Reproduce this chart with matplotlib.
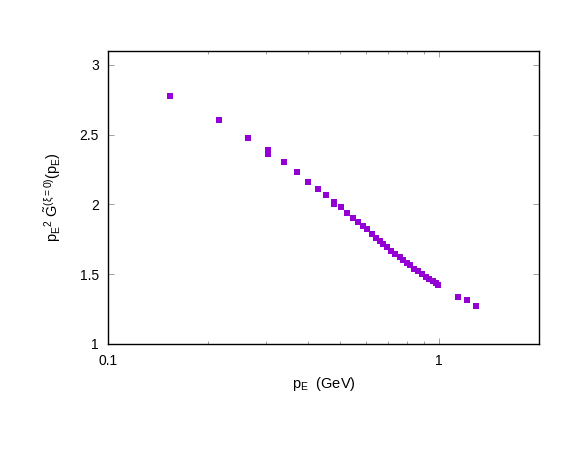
import matplotlib
matplotlib.use("Agg")
import matplotlib.pyplot as plt
from matplotlib.ticker import LogLocator, FixedLocator, NullFormatter, FixedFormatter

plt.rcParams['font.family'] = ['Liberation Sans', 'DejaVu Sans']
plt.rcParams['mathtext.fontset'] = 'custom'
plt.rcParams['mathtext.rm'] = 'Liberation Sans'
plt.rcParams['mathtext.it'] = 'Liberation Sans'
plt.rcParams['mathtext.sf'] = 'Liberation Sans'

# momentum p_E (GeV) and p_E^2 G(p_E)
p_E = [0.1535, 0.216, 0.264, 0.304, 0.304, 0.340, 0.372, 0.401, 0.430, 0.455,
       0.481, 0.481, 0.505, 0.527, 0.549, 0.569, 0.589, 0.606, 0.627, 0.645,
       0.662, 0.676, 0.696, 0.716, 0.736, 0.762, 0.778, 0.800, 0.817, 0.840,
       0.864, 0.889, 0.914, 0.933, 0.959, 0.980, 0.994, 1.143, 1.210, 1.296]
p2G = [2.778, 2.606, 2.477, 2.391, 2.362, 2.305, 2.233, 2.161, 2.111, 2.068,
       2.018, 2.004, 1.982, 1.939, 1.903, 1.875, 1.846, 1.824, 1.789, 1.760,
       1.738, 1.717, 1.695, 1.667, 1.645, 1.624, 1.602, 1.581, 1.566, 1.538,
       1.523, 1.502, 1.480, 1.466, 1.452, 1.437, 1.423, 1.337, 1.315, 1.272]

yticks = [1, 1.5, 2, 2.5, 3]
ytick_labels = ["1", "1.5", "2", "2.5", "3"]

fig = plt.figure(figsize=(5.81, 4.49), dpi=100)
ax = fig.add_axes([0.1867, 0.2339, 0.7405, 0.6525])

ax.plot(p_E, p2G, 's', color='#9400d3', markersize=4.3, markeredgewidth=0)

ax.set_xscale('log')
ax.set_xlim(0.1, 2.0)
ax.set_ylim(1, 3.1)

ax.xaxis.set_major_locator(FixedLocator([0.1, 1]))
ax.xaxis.set_major_formatter(FixedFormatter(["0.1", "1"]))
ax.xaxis.set_minor_locator(LogLocator(base=10, subs=range(2, 10)))
ax.xaxis.set_minor_formatter(NullFormatter())
ax.yaxis.set_major_locator(FixedLocator(yticks))
ax.yaxis.set_major_formatter(FixedFormatter(ytick_labels))

ax.tick_params(which='both', direction='in', top=True, right=True,
               labelsize=10, colors='black')
ax.tick_params(which='major', length=4.5, width=0.6, pad=7)
ax.tick_params(which='minor', length=2.5, width=0.6)
ax.tick_params(axis='y', color='#909090')
ax.tick_params(axis='x', which='both', color='#909090')
for s in ax.spines.values():
    s.set_linewidth(1.0)

ax.set_xlabel(r'$\mathregular{p_E}$  (GeV)', fontsize=10.5, labelpad=5)
ax.set_ylabel(r'$\mathregular{p_E{}^2\;\tilde{G}^{(\xi{=}0)}(p_E)}$', fontsize=10.5)
ax.yaxis.set_label_coords(-0.105, 0.5)

fig.savefig('out.png', dpi=100)
